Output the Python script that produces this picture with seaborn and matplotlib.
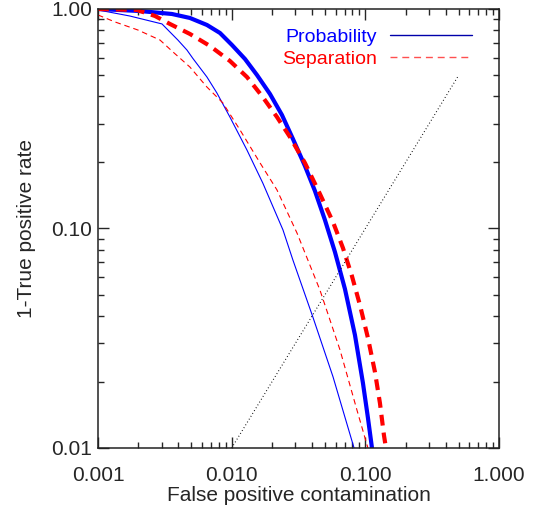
import numpy as np
import matplotlib
matplotlib.use("Agg")
import matplotlib.pyplot as plt
from matplotlib.lines import Line2D
import seaborn as sns

# curves (x = false positive contamination, y = 1 - TPR)
prob_thick_x = [0.001, 0.00206, 0.003577, 0.004876, 0.006536, 0.008177, 0.01005, 0.01258,
                0.01546, 0.01934, 0.02378, 0.02874, 0.03534, 0.04198, 0.04987, 0.05925,
                0.07038, 0.08361, 0.09594, 0.1046, 0.1121]
prob_thick_y = [1.0, 0.979, 0.9489, 0.91, 0.8455, 0.7775, 0.6855, 0.5918,
                0.5004, 0.4101, 0.3289, 0.2557, 0.1926, 0.1482, 0.1093, 0.0781,
                0.053, 0.0327, 0.01977, 0.0137, 0.01]

sep_thick_x = [0.001, 0.001957, 0.002669, 0.003455, 0.004876, 0.006881, 0.009712, 0.01301,
               0.01685, 0.02182, 0.0273, 0.03534, 0.04575, 0.05724, 0.068, 0.07939,
               0.09112, 0.1046, 0.118, 0.1286, 0.1377, 0.1426]
sep_thick_y = [1.0, 0.9896, 0.9292, 0.8544, 0.7694, 0.6784, 0.5795, 0.49,
               0.4015, 0.3221, 0.2611, 0.1988, 0.1436, 0.1071, 0.0815, 0.0607,
               0.0448, 0.0317, 0.0222, 0.016, 0.01146, 0.01]

prob_thin_x = [0.001, 0.00173, 0.00301, 0.00396, 0.00463, 0.00513, 0.00653, 0.00776, 0.0097,
               0.013, 0.0171, 0.0242, 0.0287, 0.0405, 0.0573, 0.0823]
prob_thin_y = [0.99, 0.929, 0.855, 0.722, 0.65, 0.595, 0.49, 0.414, 0.322,
               0.228, 0.161, 0.0985, 0.0719, 0.0395, 0.0211, 0.01]

sep_thin_x = [0.001, 0.00134, 0.00199, 0.00291, 0.00364, 0.00487, 0.00653, 0.0086, 0.01155,
              0.0163, 0.0218, 0.0308, 0.0457, 0.0646, 0.0865, 0.1045]
sep_thin_y = [0.939, 0.873, 0.802, 0.722, 0.637, 0.544, 0.441, 0.373, 0.281,
              0.199, 0.15, 0.0954, 0.0525, 0.028, 0.0149, 0.01]

diag_x = [0.01, 0.49]
diag_y = [0.01, 0.49]

xticks = [0.001, 0.01, 0.1, 1.0]
xticklabels = ["0.001", "0.010", "0.100", "1.000"]
yticks = [0.01, 0.1, 1.0]
yticklabels = ["0.01", "0.10", "1.00"]

sns.set_style("ticks")
plt.rcParams['font.family'] = ['Liberation Sans', 'DejaVu Sans']

fig = plt.figure(figsize=(5.34, 5.05), dpi=100)
ax = fig.add_axes([0.1835, 0.1129, 0.751, 0.8693])

sns.lineplot(x=prob_thin_x, y=prob_thin_y, ax=ax, color='blue', lw=0.8,
             estimator=None, sort=False)
sns.lineplot(x=sep_thin_x, y=sep_thin_y, ax=ax, color='red', lw=0.8,
             estimator=None, sort=False)
ax.lines[-1].set_dashes([5, 3.5])
sns.lineplot(x=prob_thick_x, y=prob_thick_y, ax=ax, color='blue', lw=3.0,
             estimator=None, sort=False)
sns.lineplot(x=sep_thick_x, y=sep_thick_y, ax=ax, color='red', lw=3.0,
             estimator=None, sort=False)
ax.lines[-1].set_dashes([2.6, 1.7])
sns.lineplot(x=diag_x, y=diag_y, ax=ax, color='black', lw=0.8,
             estimator=None, sort=False)
ax.lines[-1].set_dashes([0.8, 2.2])

ax.set_xscale('log')
ax.set_yscale('log')
ax.set_xlim(0.001, 1.0)
ax.set_ylim(0.01, 1.0)
ax.set_xticks(xticks, xticklabels)
ax.set_yticks(yticks, yticklabels)

ax.tick_params(which='both', direction='in', top=True, right=True, labelsize=15)
ax.tick_params(which='major', length=8, width=1.0)
ax.tick_params(which='minor', length=4, width=1.0)
ax.tick_params(axis='x', which='both', pad=13)
ax.tick_params(axis='y', which='both', pad=4)
for s in ax.spines.values():
    s.set_linewidth(1.1)
    s.set_color('#222222')

ax.set_xlabel("False positive contamination", fontsize=15, labelpad=1)
ax.set_ylabel("1-True positive rate", fontsize=15, labelpad=11)

handles = [Line2D([], [], color='#0000aa', lw=1.0),
           Line2D([], [], color='#ff5050', lw=1.0, dashes=[5, 3.5])]
ax.legend(handles, ["Probability", "Separation"], loc='upper right',
          bbox_to_anchor=(0.981, 1.0), frameon=False,
          markerfirst=False, fontsize=14, labelcolor=['blue', 'red'],
          handlelength=4.2, handletextpad=0.7, labelspacing=0.2,
          borderaxespad=0.6, borderpad=0.4)

fig.savefig("out.png", dpi=100)
